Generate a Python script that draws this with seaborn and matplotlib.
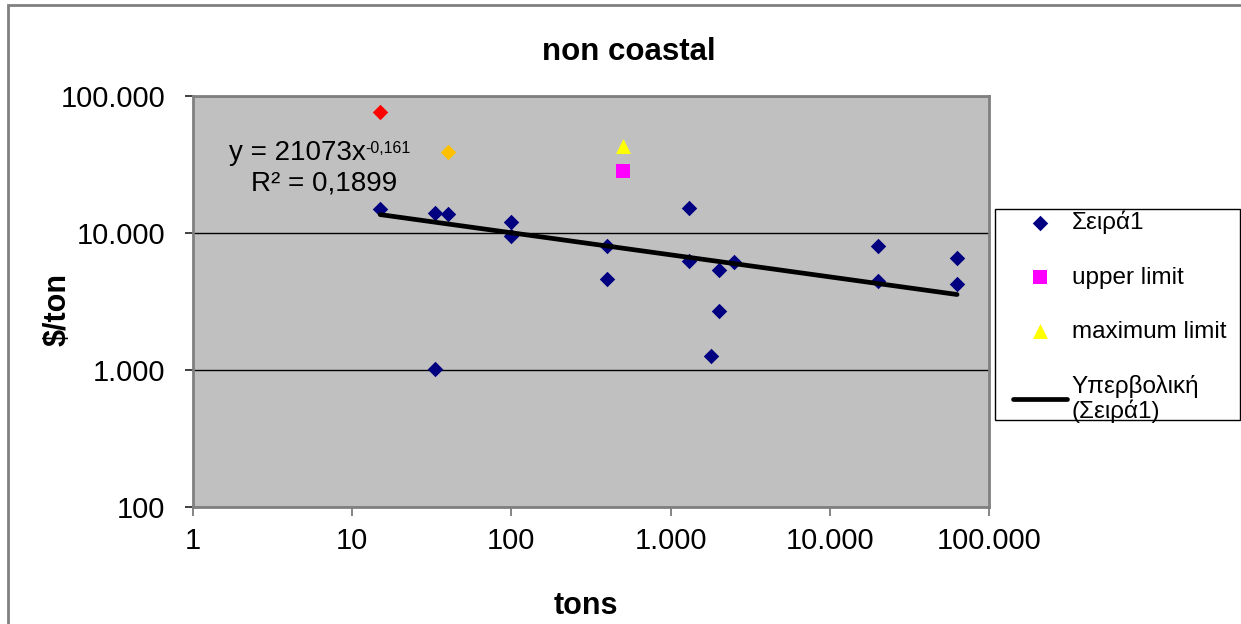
import numpy as np
import pandas as pd
import matplotlib
matplotlib.use("Agg")
import matplotlib.pyplot as plt
import matplotlib.ticker as mticker
from matplotlib.patches import Rectangle
import seaborn as sns

# ---------------- data ----------------
series1_x = [15, 33, 40, 100, 100, 33, 400, 400, 1300, 1300, 2000, 2500, 2000, 1800, 20000, 20000, 63000, 63000]
series1_y = [15000, 14000, 13800, 12000, 9450, 1020, 8000, 4600, 15100, 6200, 5400, 6100, 2700, 1270, 8000, 4500, 6570, 4270]
red_x = [15]
red_y = [76000]
orange_x = [40]
orange_y = [39000]
upper_x = [500]
upper_y = [28500]
maximum_x = [500]
maximum_y = [43000]
trend_a = 21073
trend_b = -0.161
trend_range = [15, 63000]
x_ticks = [1, 10, 100, 1000, 10000, 100000]
x_tick_labels = ["1", "10", "100", "1.000", "10.000", "100.000"]
y_ticks = [100, 1000, 10000, 100000]
y_tick_labels = ["100", "1.000", "10.000", "100.000"]
title = "non coastal"
x_label = "tons"
y_label = "$/ton"
legend_labels = ["Σειρά1", "upper limit", "maximum limit", "Υπερβολική\n(Σειρά1)"]
eq_text = "y = 21073x"
eq_exp = "-0,161"
r2_text = "R² = 0,1899"

# ---------------- style ----------------
sns.set_style("white")
plt.rcParams["font.family"] = ["Liberation Sans", "DejaVu Sans"]
plt.rcParams["text.color"] = "black"
plt.rcParams["axes.labelcolor"] = "black"
plt.rcParams["xtick.color"] = "black"
plt.rcParams["ytick.color"] = "black"

W, H = 1241, 624
fig = plt.figure(figsize=(W / 100, H / 100), dpi=100)
L, R, T, B = 193, 989, 96, 507
ax = fig.add_axes([L / W, 1 - B / H, (R - L) / W, (B - T) / H])
ax.set_facecolor("#C0C0C0")

tx = np.geomspace(trend_range[0], trend_range[1], 50)
trend_df = pd.DataFrame({"x": tx, "y": trend_a * tx ** trend_b})

s1 = pd.DataFrame({"x": series1_x, "y": series1_y})
sns.scatterplot(data=s1, x="x", y="y", ax=ax, marker="D", color="#000080", s=62,
                linewidth=0, label=legend_labels[0], zorder=3)
sns.scatterplot(x=upper_x, y=upper_y, ax=ax, marker="s", color="#FF00FF", s=115,
                linewidth=0, label=legend_labels[1], zorder=3)
sns.scatterplot(x=maximum_x, y=maximum_y, ax=ax, marker="^", color="#FFFF00", s=115,
                linewidth=0, label=legend_labels[2], zorder=3)
sns.lineplot(data=trend_df, x="x", y="y", ax=ax, color="black", linewidth=3.4,
             label=legend_labels[3], zorder=4)
sns.scatterplot(x=red_x, y=red_y, ax=ax, marker="D", color="#FF0000", s=62,
                linewidth=0, legend=False, zorder=3)
sns.scatterplot(x=orange_x, y=orange_y, ax=ax, marker="D", color="#FFC000", s=62,
                linewidth=0, legend=False, zorder=3)

ax.set_xscale("log")
ax.set_yscale("log")
ax.set_xlim(x_ticks[0], x_ticks[-1])
ax.set_ylim(y_ticks[0], y_ticks[-1])
ax.xaxis.set_major_locator(mticker.FixedLocator(x_ticks))
ax.yaxis.set_major_locator(mticker.FixedLocator(y_ticks))
ax.xaxis.set_minor_locator(mticker.NullLocator())
ax.yaxis.set_minor_locator(mticker.NullLocator())
ax.set_xticklabels(x_tick_labels)
ax.set_yticklabels(y_tick_labels)
ax.tick_params(axis="x", direction="out", length=6.5, width=1.2, color="#707070",
               labelcolor="black", labelsize=21, pad=8, bottom=True)
ax.tick_params(axis="y", direction="out", length=6, width=1.2, color="#202020",
               labelcolor="black", labelsize=21, pad=14, left=True)

ax.grid(False)
ax.yaxis.grid(True, color="black", linewidth=1)
ax.set_axisbelow(True)
for sp in ax.spines.values():
    sp.set_visible(True)
    sp.set_color("#808080")
    sp.set_linewidth(2)

ax.set_xlabel(x_label, fontsize=22, fontweight="bold", color="black")
ax.set_ylabel(y_label, fontsize=22, fontweight="bold", color="black")
ax.xaxis.set_label_coords((586 - L) / (R - L), (B - 606) / (B - T))
ax.xaxis.label.set_va("center")
ax.yaxis.set_label_coords((58 - L) / (R - L), (B - 310) / (B - T))
ax.yaxis.label.set_va("center")

# trendline equation
t1 = ax.text((229 - L) / (R - L), (B - 153) / (B - T), eq_text, transform=ax.transAxes,
             fontsize=20, ha="left", va="center", color="black")
ax.annotate(eq_exp, xy=(1.0, 0.95), xycoords=t1, fontsize=11.5, ha="left", va="top",
            color="black")
ax.text((251 - L) / (R - L), (B - 184) / (B - T), r2_text, transform=ax.transAxes,
        fontsize=20, ha="left", va="center", color="black")

# title
fig.text(629 / W, 1 - 52 / H, title, fontsize=22.5, fontweight="bold", ha="center",
         va="center", color="black")

# legend (frame drawn separately to match the reference box)
handles, labels = ax.get_legend_handles_labels()
if ax.get_legend():
    ax.get_legend().remove()
leg = fig.legend(handles, labels, loc="upper left", bbox_to_anchor=(1013 / W, 1 - 211 / H),
                 frameon=False, fontsize=17.5, labelcolor="black",
                 handlelength=2.22, handletextpad=0.2, labelspacing=1.32,
                 borderpad=0, borderaxespad=0)
for t in leg.get_texts():
    t.set_linespacing(1.12)
fig.add_artist(Rectangle((995 / W, 1 - 420 / H), 245 / W, 211 / H, transform=fig.transFigure,
                         fill=False, edgecolor="black", linewidth=1))

# chart area border
fig.add_artist(Rectangle((8 / W, -0.05), 1.1, 1 - 5 / H + 0.05, transform=fig.transFigure,
                         fill=False, edgecolor="#808080", linewidth=2, clip_on=False))

fig.savefig("out.png", dpi=100)
